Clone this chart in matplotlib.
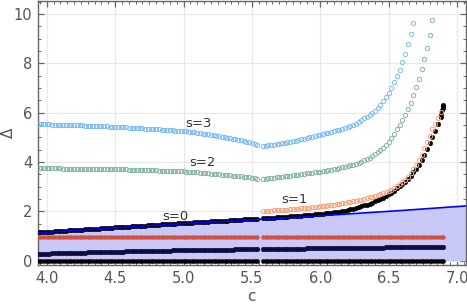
import numpy as np
import matplotlib
matplotlib.use("Agg")
import matplotlib.pyplot as plt
from matplotlib.ticker import MultipleLocator

# ---------------- data ----------------
c_left = np.round(np.arange(3.94, 5.5401, 0.02), 2)    # 81 points
c_right = np.round(np.arange(5.58, 6.9001, 0.02), 2)   # 67 points

zero_level = 0.0
red_level = 0.96

navy_left = [0.28, 0.28, 0.29, 0.29, 0.29, 0.30, 0.30, 0.30, 0.31,
             0.31, 0.31, 0.31, 0.32, 0.32, 0.32, 0.33, 0.33, 0.33, 0.34,
             0.34, 0.34, 0.35, 0.35, 0.35, 0.35, 0.36, 0.36, 0.36, 0.37,
             0.37, 0.37, 0.37, 0.38, 0.38, 0.38, 0.38, 0.39, 0.39, 0.39,
             0.39, 0.40, 0.40, 0.40, 0.40, 0.41, 0.41, 0.41, 0.41, 0.41,
             0.42, 0.42, 0.42, 0.42, 0.42, 0.43, 0.43, 0.43, 0.43, 0.43,
             0.44, 0.44, 0.44, 0.44, 0.44, 0.44, 0.45, 0.45, 0.45, 0.45,
             0.45, 0.45, 0.45, 0.46, 0.46, 0.46, 0.46, 0.46, 0.46, 0.46, 0.46, 0.46]
navy_right = [0.47, 0.47, 0.47, 0.47, 0.48, 0.48, 0.48, 0.48, 0.48, 0.48,
              0.49, 0.49, 0.49, 0.49, 0.49, 0.49, 0.50, 0.50, 0.50, 0.50,
              0.50, 0.50, 0.50, 0.51, 0.51, 0.51, 0.51, 0.51, 0.51, 0.51,
              0.52, 0.52, 0.52, 0.52, 0.52, 0.52, 0.52, 0.53, 0.53, 0.53,
              0.53, 0.53, 0.53, 0.53, 0.53, 0.54, 0.54, 0.54, 0.54, 0.54,
              0.54, 0.54, 0.55, 0.55, 0.55, 0.55, 0.55, 0.55, 0.55, 0.55,
              0.55, 0.56, 0.56, 0.56, 0.56, 0.56, 0.56]

s0_left = [1.15, 1.16, 1.16, 1.17, 1.18, 1.18, 1.19, 1.20, 1.21, 1.21,
           1.22, 1.23, 1.23, 1.24, 1.25, 1.26, 1.26, 1.27, 1.28, 1.28,
           1.29, 1.30, 1.30, 1.31, 1.32, 1.33, 1.33, 1.34, 1.35, 1.35,
           1.36, 1.37, 1.37, 1.38, 1.39, 1.40, 1.40, 1.41, 1.42, 1.42,
           1.43, 1.44, 1.44, 1.45, 1.46, 1.47, 1.47, 1.48, 1.49, 1.49,
           1.50, 1.51, 1.51, 1.52, 1.53, 1.54, 1.54, 1.55, 1.56, 1.56,
           1.57, 1.58, 1.58, 1.59, 1.60, 1.61, 1.61, 1.62, 1.63, 1.63,
           1.64, 1.65, 1.65, 1.66, 1.67, 1.68, 1.68, 1.69, 1.70, 1.70, 1.71]
s0_right = [1.72, 1.73, 1.73, 1.74, 1.75, 1.76, 1.76, 1.77, 1.78, 1.79,
            1.80, 1.80, 1.81, 1.82, 1.83, 1.84, 1.85, 1.86, 1.87, 1.88,
            1.89, 1.90, 1.91, 1.92, 1.93, 1.95, 1.96, 1.97, 1.99, 2.01,
            2.03, 2.05, 2.08, 2.11, 2.14, 2.18, 2.21, 2.24, 2.27, 2.31,
            2.36, 2.41, 2.45, 2.50, 2.56, 2.62, 2.69, 2.76, 2.84, 2.93,
            3.02, 3.11, 3.21, 3.32, 3.44, 3.58, 3.73, 3.90, 4.09, 4.30,
            4.52, 4.76, 5.00, 5.25, 5.53, 5.84]
s0_end_c = [6.886, 6.892, 6.895, 6.897, 6.899]
s0_end_y = [5.95, 6.10, 6.20, 6.27, 6.31]

s1_right = [2.01, 2.02, 2.02, 2.03, 2.04, 2.04, 2.05, 2.06, 2.07, 2.07,
            2.08, 2.09, 2.10, 2.11, 2.12, 2.13, 2.14, 2.15, 2.16, 2.17,
            2.19, 2.20, 2.21, 2.23, 2.24, 2.26, 2.27, 2.29, 2.31, 2.33,
            2.35, 2.37, 2.39, 2.41, 2.44, 2.46, 2.48, 2.51, 2.54, 2.57,
            2.60, 2.63, 2.66, 2.70, 2.74, 2.78, 2.83, 2.88, 2.94, 3.01,
            3.09, 3.18, 3.28, 3.40, 3.54, 3.70, 3.88, 4.08, 4.30, 4.55,
            4.80, 5.06, 5.32, 5.56, 5.80, 6.04]

s2_left = [3.74, 3.74, 3.74, 3.74, 3.74, 3.74, 3.74, 3.74, 3.74, 3.73,
           3.73, 3.73, 3.73, 3.73, 3.73, 3.73, 3.73, 3.73, 3.73, 3.72,
           3.72, 3.72, 3.72, 3.72, 3.72, 3.72, 3.72, 3.72, 3.71, 3.71,
           3.70, 3.70, 3.70, 3.69, 3.69, 3.69, 3.68, 3.68, 3.68, 3.67,
           3.67, 3.67, 3.66, 3.66, 3.65, 3.65, 3.65, 3.64, 3.64, 3.63,
           3.63, 3.62, 3.62, 3.62, 3.61, 3.60, 3.59, 3.59, 3.58, 3.57,
           3.56, 3.55, 3.54, 3.53, 3.52, 3.51, 3.50, 3.49, 3.48, 3.47,
           3.46, 3.45, 3.44, 3.43, 3.42, 3.41, 3.39, 3.38, 3.36, 3.34, 3.31]
s2_right = [3.32, 3.33, 3.34, 3.35, 3.37, 3.38, 3.39, 3.40, 3.42, 3.43,
            3.44, 3.46, 3.47, 3.49, 3.50, 3.52, 3.54, 3.55, 3.57, 3.58,
            3.60, 3.61, 3.63, 3.65, 3.67, 3.69, 3.71, 3.73, 3.76, 3.78,
            3.81, 3.84, 3.87, 3.90, 3.94, 3.98, 4.02, 4.07, 4.12, 4.18,
            4.24, 4.31, 4.39, 4.48, 4.58, 4.70, 4.83, 4.98, 5.15, 5.34,
            5.52, 5.70, 5.90, 6.14, 6.39, 6.70, 7.03, 7.38, 7.76, 8.16,
            8.63, 9.16, 9.77]

s3_left = [5.54, 5.54, 5.53, 5.53, 5.53, 5.52, 5.52, 5.52, 5.51, 5.51,
           5.51, 5.50, 5.50, 5.50, 5.50, 5.49, 5.49, 5.48, 5.48, 5.48,
           5.47, 5.47, 5.46, 5.46, 5.45, 5.45, 5.44, 5.44, 5.43, 5.43,
           5.42, 5.41, 5.41, 5.40, 5.39, 5.39, 5.38, 5.37, 5.37, 5.36,
           5.35, 5.34, 5.34, 5.33, 5.32, 5.31, 5.31, 5.30, 5.29, 5.28,
           5.27, 5.27, 5.26, 5.25, 5.24, 5.22, 5.21, 5.20, 5.18, 5.17,
           5.15, 5.14, 5.12, 5.10, 5.08, 5.07, 5.05, 5.03, 5.01, 4.99,
           4.97, 4.95, 4.93, 4.91, 4.88, 4.86, 4.83, 4.80, 4.78, 4.74, 4.68]
s3_right = [4.66, 4.67, 4.68, 4.70, 4.71, 4.73, 4.75, 4.77, 4.79, 4.81,
            4.83, 4.85, 4.87, 4.90, 4.92, 4.95, 4.98, 5.00, 5.03, 5.05,
            5.08, 5.10, 5.13, 5.16, 5.19, 5.22, 5.25, 5.28, 5.31, 5.34,
            5.37, 5.41, 5.45, 5.50, 5.56, 5.63, 5.71, 5.77, 5.84, 5.91,
            5.99, 6.07, 6.19, 6.32, 6.48, 6.64, 6.81, 7.00, 7.23, 7.47,
            7.74, 8.04, 8.39, 8.78, 9.19, 9.64]

bound_c = [3.934, 4.8, 5.56, 5.85, 6.58, 7.063]
bound_y = [1.13, 1.44, 1.68, 1.77, 2.03, 2.22]

label_text = ["s=3", "s=2", "s=0", "s=1"]
label_c = [5.107, 5.137, 4.938, 5.815]
label_y = [5.57, 3.97, 1.81, 2.49]

# ---------------- figure ----------------
fig = plt.figure(figsize=(4.67, 3.04), dpi=100)
ax = fig.add_axes([0.0807, 0.1283, 0.9165, 0.8684])

ax.set_xlim(3.934, 7.063)
ax.set_ylim(-0.174, 10.53)

ax.grid(True, which="major", color="#e8e8e8", lw=0.8, zorder=0)
ax.set_axisbelow(True)

ax.fill_between(bound_c, 0, bound_y, color="#c9c9f8", lw=0, zorder=1)


def dots(c, y, color, ms, z):
    ax.plot(c, y, ls="none", marker="o", ms=ms, mfc=color, mec=color,
            mew=0.3, zorder=z)


def rings(c, y, color, z):
    ax.plot(c, y, ls="none", marker="o", ms=3.1, mfc="none", mec=color,
            mew=0.7, zorder=z)


# flat series
dots(c_left, np.full(len(c_left), zero_level), "#000000", 3.0, 3)
dots(c_right, np.full(len(c_right), zero_level), "#000000", 3.0, 3)
dots(c_left, navy_left, "#0d0d40", 3.4, 3)
dots(c_right, navy_right, "#0d0d40", 3.4, 3)
dots(c_left, np.full(len(c_left), red_level), "#d4503c", 2.8, 3)
dots(c_right, np.full(len(c_right), red_level), "#d4503c", 2.8, 3)

# s = 0
dots(c_left, s0_left, "#000000", 3.3, 4)
dots(c_right[:len(s0_right)], s0_right, "#000000", 3.3, 4)
dots(s0_end_c, s0_end_y, "#000000", 3.3, 4)

# unitarity-like bound line
ax.plot(bound_c, bound_y, color="#0000ff", lw=1.2, zorder=5)

# s = 1, 2, 3
rings(c_right[:len(s1_right)], s1_right, "#f4a47e", 4)
rings(c_left, s2_left, "#85b5a4", 4)
rings(c_right[:len(s2_right)], s2_right, "#85b5a4", 4)
rings(c_left, s3_left, "#7dbcf3", 4)
rings(c_right[:len(s3_right)], s3_right, "#7dbcf3", 4)

for t, xc, yc in zip(label_text, label_c, label_y):
    ax.text(xc, yc, t, ha="center", va="center", fontsize=9.5,
            color="#333333", zorder=6)

# axes styling
ax.xaxis.set_major_locator(MultipleLocator(0.5))
ax.xaxis.set_minor_locator(MultipleLocator(0.05))
ax.yaxis.set_major_locator(MultipleLocator(2))
ax.yaxis.set_minor_locator(MultipleLocator(0.5))
ax.tick_params(which="both", direction="in", top=True, right=True,
               color="#666666")
ax.tick_params(which="major", length=4.5, width=0.9, labelsize=10.5,
               labelcolor="#555555", pad=4)
ax.tick_params(which="minor", length=2.5, width=0.7)
for sp in ax.spines.values():
    sp.set_color("#666666")
    sp.set_linewidth(1.0)

ax.set_xlabel("c", fontsize=11, color="#555555", va="center")
ax.xaxis.set_label_coords(0.5, -0.12)
ax.set_ylabel("Δ", fontsize=11, color="#555555", va="center")
ax.yaxis.set_label_coords(-0.069, 0.5)

fig.savefig("out.png", dpi=100)
